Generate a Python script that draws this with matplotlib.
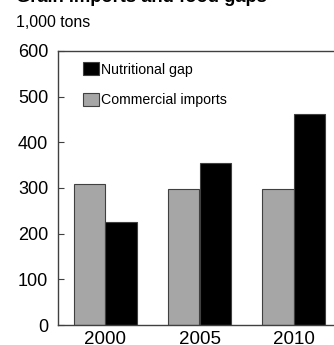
import matplotlib.pyplot as plt
import numpy as np

plt.rcParams['font.family'] = ['Liberation Sans', 'DejaVu Sans']

years = ['2000', '2005', '2010']
commercial_imports = [308, 297, 297]
nutritional_gap = [225, 354, 463]

W, H = 334, 345
fig = plt.figure(figsize=(W / 100, H / 100), dpi=100)
ax = fig.add_axes([58 / W, 1 - 325 / H, (341 - 58) / W, (325 - 51) / H])

x = np.arange(len(years))
w = 1 / 3
edge = '#404040'
ax.bar(x - w / 2, commercial_imports, w, color='#a6a6a6', edgecolor=edge,
       linewidth=0.8, label='Commercial imports')
ax.bar(x + w / 2, nutritional_gap, w, color='black', edgecolor=edge,
       linewidth=0.8, label='Nutritional gap')

ax.set_xlim(-0.5, 2.5)
ax.set_ylim(0, 600)
ax.set_yticks(range(0, 601, 100))
ax.set_xticks(x)
ax.set_xticklabels(years)
ax.tick_params(axis='y', direction='in', length=4, width=0.8, color=edge,
               labelsize=13, pad=7)
ax.tick_params(axis='x', length=0, labelsize=13.5, pad=4)
for side in ['left', 'top', 'bottom']:
    ax.spines[side].set_color(edge)
    ax.spines[side].set_linewidth(1.0)
ax.spines['right'].set_visible(False)

handles, labels = ax.get_legend_handles_labels()
ax.legend(handles[::-1], labels[::-1], loc='upper left',
          bbox_to_anchor=(83 / W, 1 - 62 / H), bbox_transform=fig.transFigure,
          frameon=False, fontsize=10.2, handlelength=1.15, handleheight=1.08,
          handletextpad=0.15, labelspacing=1.15, borderpad=0, borderaxespad=0)

fig.text(16 / W, 1 - 2.5 / H, 'Grain imports and food gaps', fontsize=13.2,
         fontweight='bold', ha='left', va='baseline')
fig.text(16 / W, 1 - 27 / H, '1,000 tons', fontsize=11.4, ha='left',
         va='baseline')

fig.savefig('out.png', dpi=100)
